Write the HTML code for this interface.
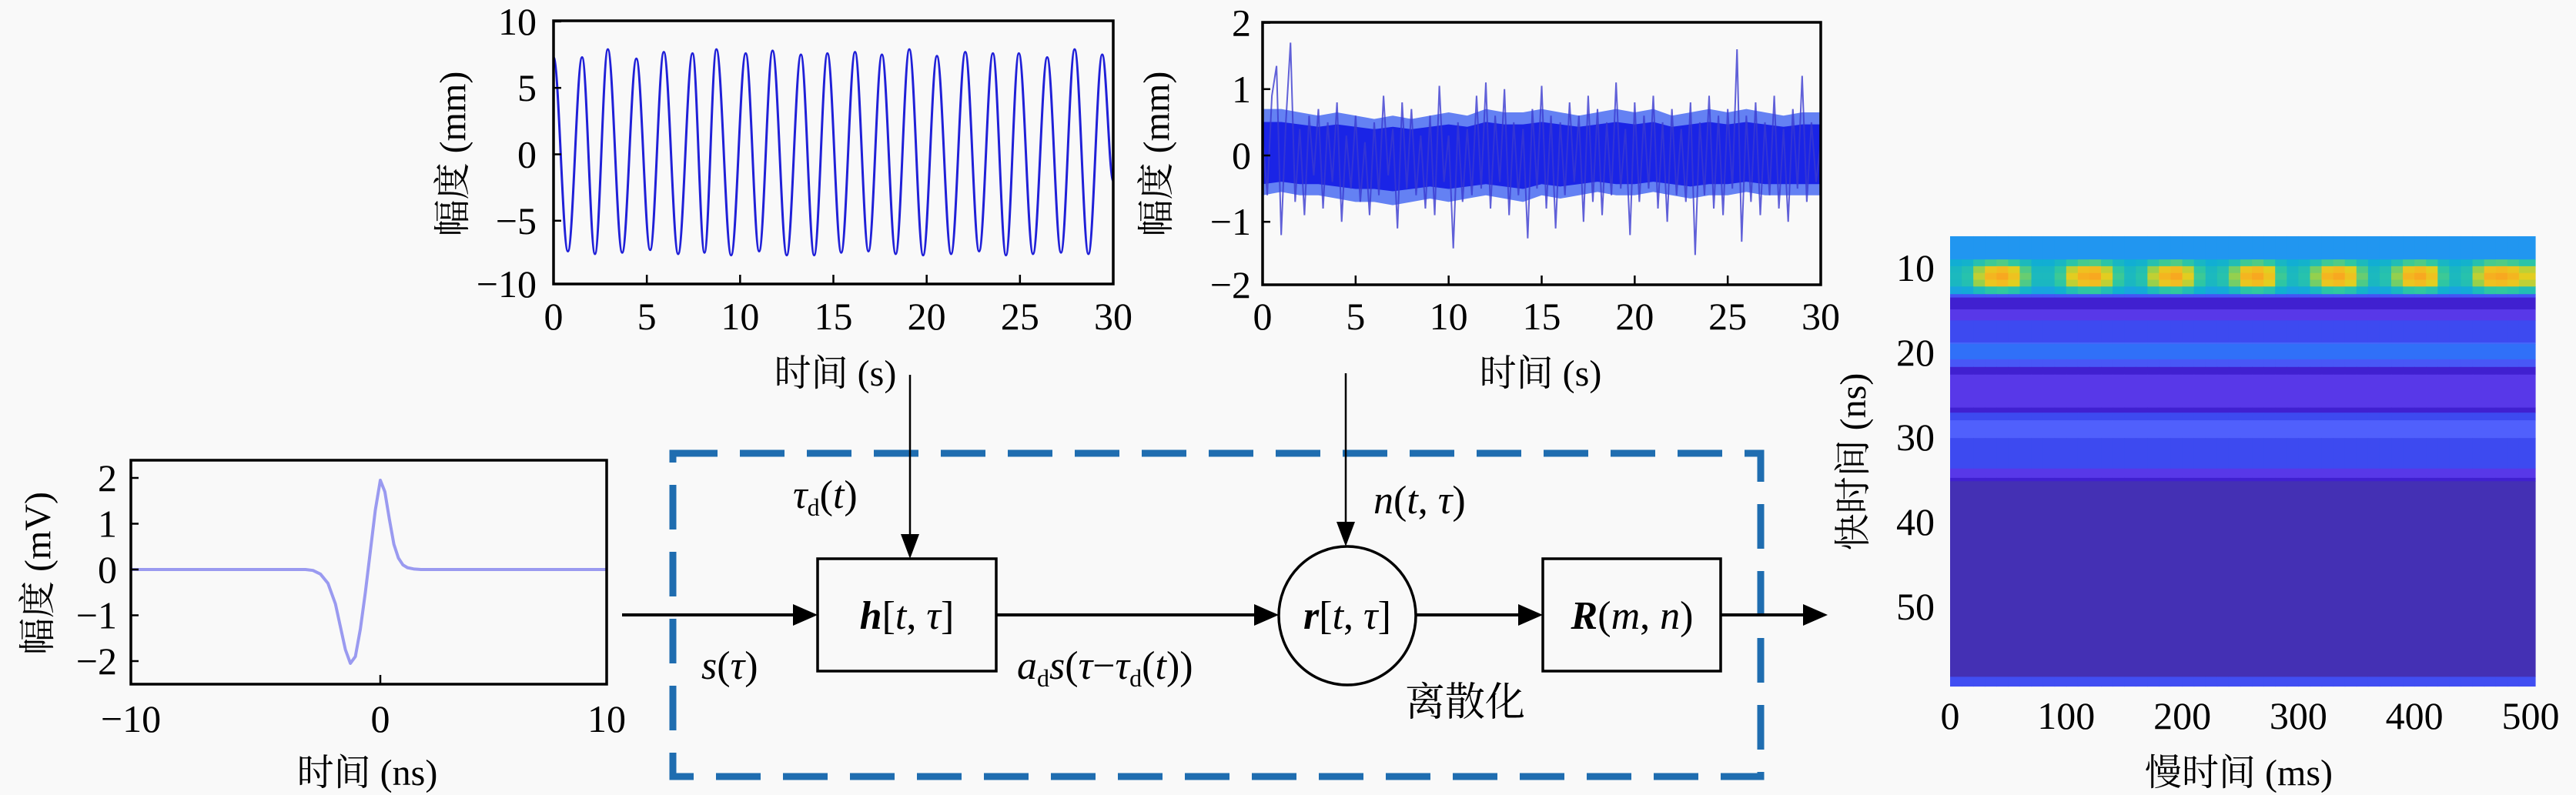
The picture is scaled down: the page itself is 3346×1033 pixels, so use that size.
<!DOCTYPE html>
<html><head><meta charset="utf-8"><style>
html,body{margin:0;padding:0;background:#f9f9f9;}
svg{display:block;}
text{font-family:"Liberation Serif","Noto Serif CJK SC",serif;fill:#000;}
.tick{font-size:50px;}
.lab{font-size:48px;}
.math{font-size:52px;font-style:italic;}
</style></head><body>
<svg id="fig" xmlns="http://www.w3.org/2000/svg" width="3346" height="1033" viewBox="0 0 3346 1033">
<rect x="0" y="0" width="3346" height="1033" fill="#f9f9f9"/>
<defs>
<clipPath id="c1"><rect x="719" y="27" width="727" height="342"/></clipPath>
<clipPath id="c2"><rect x="1640" y="29" width="725" height="341"/></clipPath>
<clipPath id="c3"><rect x="170" y="598" width="618" height="291"/></clipPath>
</defs>
<g id="gSine"></g>
<g id="gNoise"></g>
<g id="gPulse"></g>
<g id="gHeat"></g>

<g>
<rect x="874" y="589" width="1413" height="420" fill="none" stroke="#1f6db0" stroke-width="9" stroke-dasharray="58 29"/>
<line x1="808" y1="799" x2="1032" y2="799" stroke="#000" stroke-width="4"/>
<path d="M1062,799 L1030,785 L1030,813 Z" fill="#000"/>
<line x1="1182" y1="487" x2="1182" y2="696" stroke="#000" stroke-width="2.5"/>
<path d="M1182,726 L1170,694 L1194,694 Z" fill="#000"/>
<rect x="1062" y="726" width="232" height="146" fill="none" stroke="#000" stroke-width="3.5"/>
<line x1="1294" y1="799" x2="1630" y2="799" stroke="#000" stroke-width="4"/>
<path d="M1661,799 L1629,785 L1629,813 Z" fill="#000"/>
<line x1="1748" y1="485" x2="1748" y2="680" stroke="#000" stroke-width="2.5"/>
<path d="M1748,710 L1736,678 L1760,678 Z" fill="#000"/>
<ellipse cx="1750" cy="800" rx="89" ry="90" fill="none" stroke="#000" stroke-width="3.5"/>
<line x1="1839" y1="799" x2="1974" y2="799" stroke="#000" stroke-width="4"/>
<path d="M2004,799 L1972,785 L1972,813 Z" fill="#000"/>
<rect x="2004" y="726" width="231" height="146" fill="none" stroke="#000" stroke-width="3.5"/>
<line x1="2235" y1="799" x2="2344" y2="799" stroke="#000" stroke-width="4"/>
<path d="M2374,799 L2342,785 L2342,813 Z" fill="#000"/>

<text class="math" x="1178" y="817" text-anchor="middle"><tspan font-weight="bold">h</tspan><tspan font-style="normal">[</tspan>t<tspan font-style="normal">, </tspan>τ<tspan font-style="normal">]</tspan></text>
<text class="math" x="1030" y="660">τ<tspan font-style="normal" font-size="32" dy="10">d</tspan><tspan font-style="normal" dy="-10">(</tspan>t<tspan font-style="normal">)</tspan></text>
<text class="math" x="911" y="882">s<tspan font-style="normal">(</tspan>τ<tspan font-style="normal">)</tspan></text>
<text class="math" x="1321" y="882">a<tspan font-style="normal" font-size="32" dy="10">d</tspan><tspan dy="-10">s</tspan><tspan font-style="normal">(</tspan>τ<tspan font-style="normal">−</tspan>τ<tspan font-style="normal" font-size="32" dy="10">d</tspan><tspan font-style="normal" dy="-10">(</tspan>t<tspan font-style="normal">))</tspan></text>
<text class="math" x="1784" y="667">n<tspan font-style="normal">(</tspan>t<tspan font-style="normal">, </tspan>τ<tspan font-style="normal">)</tspan></text>
<text class="math" x="1750" y="817" text-anchor="middle"><tspan font-weight="bold">r</tspan><tspan font-style="normal">[</tspan>t<tspan font-style="normal">, </tspan>τ<tspan font-style="normal">]</tspan></text>
<text class="math" x="2120" y="817" text-anchor="middle"><tspan font-weight="bold">R</tspan><tspan font-style="normal">(</tspan>m<tspan font-style="normal">, </tspan>n<tspan font-style="normal">)</tspan></text>
<text x="1903" y="930" font-size="52" text-anchor="middle">离散化</text>
</g>
</svg>
<script>
// ===== Data =====
const sineT = [0,0.77,1.53,2.22,2.91,3.68,4.44,5.18,5.91,6.68,7.45,8.09,8.73,9.52,10.30,11.02,11.74,12.50,13.26,13.97,14.68,15.42,16.16,16.88,17.60,18.34,19.07,19.81,20.55,21.31,22.07,22.81,23.55,24.25,24.94,25.70,26.46,27.20,27.93,28.67,29.41,30];
const sineV = [7.3,-7.3,7.3,-7.5,7.9,-7.4,7.2,-7.2,7.7,-7.5,7.6,-7.4,7.9,-7.6,7.6,-7.3,7.8,-7.6,7.5,-7.6,7.6,-7.4,7.7,-7.3,7.5,-7.5,7.9,-7.6,7.4,-7.5,7.7,-7.3,7.6,-7.6,7.6,-7.5,7.3,-7.4,7.9,-7.5,7.5,-2.0];
const timeTicks = [0,5,10,15,20,25,30];
const sineYTicks = [10,5,0,-5,-10];

const noiseV = [0.3,-0.6,0.9,1.35,-1.2,0.5,1.7,-0.7,0.4,-0.9,0.6,-0.3,
0.7,-0.8,0.5,-0.4,0.8,-1.0,0.3,-0.5,0.6,-0.7,0.2,-0.9,
0.5,-0.6,0.9,-0.3,0.4,-1.1,0.8,-0.5,0.7,-0.6,0.3,-0.8,
0.6,-0.9,1.05,-0.4,0.3,-1.4,0.5,-0.7,0.4,-0.6,0.9,-0.5,
1.1,-0.8,0.6,-0.4,1.0,-0.9,0.5,-0.6,0.4,-1.25,0.7,-0.5,
1.05,-0.8,0.6,-1.1,0.5,-0.6,0.8,-0.4,0.6,-1.0,0.9,-0.7,
0.7,-0.9,0.5,-0.6,1.1,-0.5,0.4,-1.2,0.8,-0.7,0.6,-0.5,
0.9,-0.8,0.5,-1.0,0.7,-0.6,0.4,-0.7,0.8,-1.5,0.5,-0.6,
0.9,-0.8,0.6,-0.9,0.7,-0.5,1.6,-1.3,0.6,-0.7,0.8,-0.9,
0.5,-0.6,0.9,-0.8,0.4,-1.0,0.7,-0.5,1.2,-0.7,0.5,-0.4,
0.2];
const noiseStep = 0.25;
const noiseBandHi = [0.7,0.7,0.65,0.6,0.65,0.6,0.55,0.6,0.55,0.6,0.65,0.6,0.7,0.65,0.65,0.7,0.65,0.6,0.65,0.7,0.65,0.7,0.6,0.65,0.7,0.65,0.7,0.65,0.6,0.65,0.65];
const noiseBandLo = [-0.6,-0.55,-0.6,-0.6,-0.65,-0.7,-0.7,-0.75,-0.7,-0.65,-0.7,-0.65,-0.6,-0.65,-0.7,-0.6,-0.65,-0.6,-0.55,-0.6,-0.6,-0.55,-0.6,-0.65,-0.6,-0.6,-0.55,-0.6,-0.6,-0.6,-0.6];
const noiseYTicks = [2,1,0,-1,-2];

const pulseT = [-10,-3,-2.7,-2.4,-2.1,-1.8,-1.6,-1.4,-1.2,-1.0,-0.8,-0.6,-0.4,-0.2,0,0.2,0.4,0.6,0.8,1.0,1.2,1.5,1.8,2.2,10];
const pulseV = [0,0,-0.02,-0.1,-0.3,-0.75,-1.25,-1.75,-2.05,-1.9,-1.3,-0.5,0.4,1.3,1.95,1.7,1.1,0.55,0.25,0.1,0.04,0.01,0,0,0];
const pulseXTicks = [-10,0,10];
const pulseYTicks = [2,1,0,-1,-2];

const heatRowEdges = [6.36,9.1,9.9,10.7,11.5,12.3,13.2,13.6,15.0,16.3,18.9,19.1,20.9,21.8,22.7,26.6,27.2,28.1,30.2,33.8,34.9,35.3,58.4,59.5];
const heatRowLevels = [0.35,0.42,0.45,0.45,0.45,0.38,0.17,0.05,0.10,0.15,0.22,0.25,0.18,0.05,0.10,0.05,0.15,0.20,0.15,0.10,0.05,0.0,0.16];
const heatRowSpotGain = [0,0.4,0.85,1,0.85,0.4,0,0,0,0,0,0,0,0,0,0,0,0,0,0,0,0,0];
const slowTimeProfile = [0.1,0.2,0.6,0.9,1.0,0.8,0.4,0.1,0.1,0.3,0.7,0.95,1.0,0.7,0.3,0.1,0.2,0.6,0.9,1.0,0.7,0.3,0.1,0.2,0.5,0.9,1.0,0.8,0.3,0.1,0.2,0.5,0.9,1.0,0.8,0.4,0.1,0.2,0.5,0.9,1.0,0.8,0.3,0.1,0.2,0.6,0.95,1.0,0.9,0.7];
const slowBinMs = 10;
const heatXTicks = [0,100,200,300,400,500];
const heatYTicks = [10,20,30,40,50];

// ===== Helpers =====
const NS='http://www.w3.org/2000/svg';
function mk(tag, parent, attrs){const e=document.createElementNS(NS,tag);for(const k in attrs)e.setAttribute(k,attrs[k]);parent.appendChild(e);return e;}
function txt(parent, x, y, s, cls, anchor, attrs){const t=mk('text',parent,Object.assign({x:x,y:y,class:cls,'text-anchor':anchor||'middle'},attrs||{}));t.textContent=s;return t;}
function fmt(v){return v<0?'−'+Math.abs(v):String(v);}

function axesBox(g, x0,y0,x1,y1){
  const r=mk('rect',g,{x:x0,y:y0,width:x1-x0,height:y1-y0,fill:'none',stroke:'#000','stroke-width':3.5});
  
  
}
function xTicks(g, ticks, sx, y1, yLab, labels, clsz){
  ticks.forEach((v,i)=>{
    const l=mk('line',g,{x1:sx(v),x2:sx(v),y1:y1,y2:y1-12,stroke:'#000','stroke-width':2.5});
    
    
    const t=txt(g,sx(v),yLab,labels?labels[i]:fmt(v),clsz||'tick','middle');
    
    
  });
}
function yTicks(g, ticks, sy, x0, xLab, clsz){
  ticks.forEach(v=>{
    const l=mk('line',g,{x1:x0,x2:x0+10,y1:sy(v),y2:sy(v),stroke:'#000','stroke-width':2.5});
    
    
    const t=txt(g,xLab,sy(v)+17,fmt(v),clsz||'tick','end');
    
    
  });
}
function yLabel(g, cx, cy, s){
  const t=txt(g,cx,cy+16,s,'lab','middle',{transform:'rotate(-90 '+cx+' '+cy+')'});
  
  
}
function xLabel(g, cx, y, s){
  const t=txt(g,cx,y,s,'lab','middle');
  
  
}

// ===== Sine chart =====
(function(){
  const g=document.getElementById('gSine');
  const sx=t=>719+t*(1446-719)/30;
  const sy=v=>200.5-v*17.26;
  let d='M'+sx(sineT[0])+','+sy(sineV[0]);
  for(let i=1;i<sineT.length;i++){
    const x0=sx(sineT[i-1]),x1=sx(sineT[i]),dx=(x1-x0)*0.364;
    d+=' C'+(x0+dx)+','+sy(sineV[i-1])+' '+(x1-dx)+','+sy(sineV[i])+' '+x1+','+sy(sineV[i]);
  }
  const p=mk('path',g,{d:d,fill:'none',stroke:'#2020d8','stroke-width':3,'clip-path':'url(#c1)'});
  
  
  axesBox(g,719,27,1446,369);
  xTicks(g,timeTicks,sx,369,428);
  yTicks(g,sineYTicks,v=>Math.min(Math.max(sy(v),27),369),719,697);
  xLabel(g,1085,501,'时间 (s)');
  yLabel(g,588,200,'幅度 (mm)');
})();

// ===== Noise chart =====
(function(){
  const g=document.getElementById('gNoise');
  const sx=t=>1640+t*(2365-1640)/30;
  const sy=v=>202-v*86.2;
  function bandPath(k){
    let d='';
    noiseBandHi.forEach((v,i)=>{d+=(i?'L':'M')+sx(i)+','+sy(v*k)+' ';});
    for(let i=noiseBandLo.length-1;i>=0;i--){d+='L'+sx(i)+','+sy(noiseBandLo[i]*k)+' ';}
    return d+'Z';
  }
  const band=mk('path',g,{d:bandPath(1),fill:'#4a6cf2','fill-opacity':0.85,'clip-path':'url(#c2)'});
  
  
  const core=mk('path',g,{d:bandPath(0.72),fill:'#1a24e6','clip-path':'url(#c2)'});
  
  
  let pts=noiseV.map((v,i)=>sx(i*noiseStep)+','+sy(v)).join(' ');
  const pl=mk('polyline',g,{points:pts,fill:'none',stroke:'#3a3ad0','stroke-width':2,'stroke-opacity':0.8,'clip-path':'url(#c2)'});
  
  
  axesBox(g,1640,29,2365,370);
  xTicks(g,timeTicks,sx,370,428);
  yTicks(g,noiseYTicks,v=>Math.min(Math.max(sy(v),29),370),1640,1625);
  xLabel(g,2001,501,'时间 (s)');
  yLabel(g,1502,200,'幅度 (mm)');
})();

// ===== Pulse chart =====
(function(){
  const g=document.getElementById('gPulse');
  const sx=t=>t<0?494+t*32.4:494+t*29.4;
  const sy=v=>740-v*59.5;
  let pts=pulseT.map((t,i)=>sx(t)+','+sy(pulseV[i])).join(' ');
  const pl=mk('polyline',g,{points:pts,fill:'none',stroke:'#9a9af0','stroke-width':4,'stroke-linejoin':'round','clip-path':'url(#c3)'});
  
  
  axesBox(g,170,598,788,889);
  xTicks(g,pulseXTicks,sx,889,951);
  yTicks(g,pulseYTicks,sy,170,152);
  xLabel(g,477,1020,'时间 (ns)');
  yLabel(g,49,745,'幅度 (mV)');
})();

// ===== Heatmap =====
const cmapStops=[[0,'#4430b4'],[0.05,'#4020d0'],[0.10,'#5838e8'],[0.15,'#3d4af0'],[0.20,'#5060fc'],[0.25,'#3070f8'],[0.35,'#2196f0'],[0.45,'#10b0d0'],[0.6,'#30c8a0'],[0.72,'#90d050'],[0.82,'#e0d020'],[0.9,'#f0c020'],[1.0,'#f8a820']];
function hex2(c){return [parseInt(c.substr(1,2),16),parseInt(c.substr(3,2),16),parseInt(c.substr(5,2),16)];}
function cmap(v){
  v=Math.max(0,Math.min(1,v));
  for(let i=1;i<cmapStops.length;i++){
    if(v<=cmapStops[i][0]){
      const a=cmapStops[i-1],b=cmapStops[i],f=(v-a[0])/(b[0]-a[0]);
      const ca=hex2(a[1]),cb=hex2(b[1]);
      return 'rgb('+ca.map((x,k)=>Math.round(x+(cb[k]-x)*f)).join(',')+')';
    }
  }
  return cmapStops[cmapStops.length-1][1];
}
(function(){
  const g=document.getElementById('gHeat');
  const sx=ms=>2533+ms*(3293-2533)/504;
  const sy=ns=>347+(ns-10)*11.0;
  for(let r=0;r<heatRowLevels.length;r++){
    for(let c=0;c<slowTimeProfile.length;c++){
      const lvl=heatRowLevels[r]+heatRowSpotGain[r]*slowTimeProfile[c]*0.55;
      const x0=sx(c*slowBinMs), x1=sx((c+1)*slowBinMs+(c===slowTimeProfile.length-1?4:0));
      const y0=sy(heatRowEdges[r]), y1=sy(heatRowEdges[r+1]);
      const cell=mk('rect',g,{x:x0,y:y0,width:x1-x0+0.6,height:y1-y0+0.6,fill:cmap(lvl)});
      
      
    }
  }
  heatXTicks.forEach(v=>{
    const t=txt(g,sx(v),947,String(v),'tick','middle');
    
    
  });
  heatYTicks.forEach(v=>{
    const t=txt(g,2513,sy(v)+18,String(v),'tick','end');
    
    
  });
  xLabel(g,2908,1020,'慢时间 (ms)');
  yLabel(g,2407,600,'快时间 (ns)');
})();
</script>
</body></html>
